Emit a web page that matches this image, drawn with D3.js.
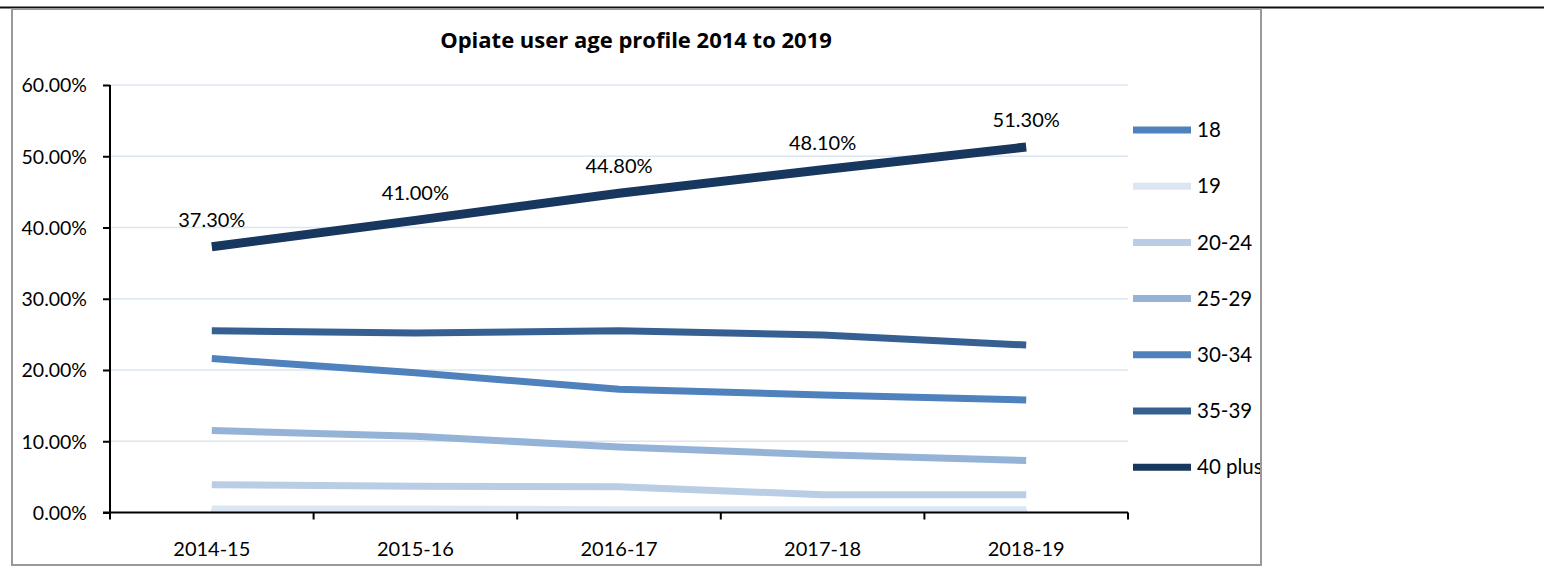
<!DOCTYPE html>
<html>
<head>
<meta charset="utf-8">
<script src="https://cdn.jsdelivr.net/npm/d3@7"></script>
<style>
  html, body { margin: 0; padding: 0; background: #fff; }
  svg { display: block; font-family: "Lato", "Open Sans", sans-serif; }
</style>
</head>
<body>
<svg id="chart" width="1544" height="566"></svg>
<script>
// Years on the x axis
const years = ["2014-15", "2015-16", "2016-17", "2017-18", "2018-19"];

// Share of opiate users by age group (%)
const age18    = [0.0, 0.0, 0.0, 0.0, 0.0];
const age19    = [0.5, 0.5, 0.4, 0.4, 0.4];
const age20_24 = [3.9, 3.7, 3.6, 2.5, 2.5];
const age25_29 = [11.5, 10.7, 9.2, 8.1, 7.3];
const age30_34 = [21.6, 19.6, 17.3, 16.5, 15.8];
const age35_39 = [25.5, 25.2, 25.5, 24.9, 23.5];
const age40plus = [37.3, 41.0, 44.8, 48.1, 51.3];

const seriesNames = ["18", "19", "20-24", "25-29", "30-34", "35-39", "40 plus"];
const seriesValues = [age18, age19, age20_24, age25_29, age30_34, age35_39, age40plus];
const seriesColors = ["#4f81bd", "#dce6f2", "#b9cde5", "#95b3d7", "#4f81bd", "#376092", "#17375e"];

const yTicks = [0, 10, 20, 30, 40, 50, 60];

const svg = d3.select("#chart");

// page rule and chart frame
svg.append("line").attr("x1", 0).attr("x2", 1544).attr("y1", 7.5).attr("y2", 7.5)
  .attr("stroke", "#111").attr("stroke-width", 2);
svg.append("rect").attr("x", 12).attr("y", 9).attr("width", 1249).attr("height", 556)
  .attr("fill", "#fff").attr("stroke", "#999").attr("stroke-width", 2);

const plot = { left: 110, right: 1128, top: 85, bottom: 512.5 };

const xBand = d3.scaleBand().domain(years).range([plot.left, plot.right]);
const x = d3.scalePoint().domain(years).range([plot.left, plot.right]).padding(0.5);
const y = d3.scaleLinear().domain([0, 60]).range([plot.bottom, plot.top]);

// title
svg.append("text").attr("x", 636).attr("y", 48).attr("text-anchor", "middle")
  .attr("font-family", "'Open Sans', sans-serif")
  .attr("font-weight", "bold").attr("font-size", 22).attr("fill", "#000")
  .text("Opiate user age profile 2014 to 2019");

// gridlines
svg.append("g").selectAll("line").data(yTicks.filter(d => d > 0)).join("line")
  .attr("x1", plot.left).attr("x2", plot.right)
  .attr("y1", d => y(d)).attr("y2", d => y(d))
  .attr("stroke", "#dce6f2").attr("stroke-width", 1.5);

// clip lines to the plot area
svg.append("clipPath").attr("id", "plotClip").append("rect")
  .attr("x", plot.left).attr("y", plot.top - 10)
  .attr("width", plot.right - plot.left).attr("height", plot.bottom - plot.top + 10);

const line = d3.line().x((d, i) => x(years[i])).y(d => y(d));

svg.append("g").attr("clip-path", "url(#plotClip)").selectAll("path")
  .data(seriesValues).join("path")
  .attr("d", d => line(d))
  .attr("fill", "none")
  .attr("stroke", (d, i) => seriesColors[i])
  .attr("stroke-width", (d, i) => i === 6 ? 9 : 7)
  .attr("stroke-linejoin", "round");

// data labels on the 40 plus series
svg.append("g").selectAll("text").data(age40plus).join("text")
  .attr("x", (d, i) => x(years[i]))
  .attr("y", d => y(d) - 20)
  .attr("text-anchor", "middle").attr("font-size", 20).attr("fill", "#000")
  .text(d => d.toFixed(2) + "%");

// y axis
const yAxis = svg.append("g").attr("transform", `translate(${plot.left},0)`)
  .call(d3.axisLeft(y).tickValues(yTicks).tickSize(7).tickPadding(16)
    .tickFormat(d => d.toFixed(2) + "%"));
yAxis.select(".domain").attr("stroke", "#000").attr("stroke-width", 2).attr("d", `M0,${plot.top}V${plot.bottom}`);
yAxis.selectAll(".tick line").attr("stroke", "#000").attr("stroke-width", 2);
yAxis.selectAll(".tick text").attr("font-size", 19.5).attr("fill", "#000")
  .attr("font-family", "Lato, sans-serif").attr("dy", "0.35em");

// x axis with tick marks between categories
const xg = svg.append("g");
xg.append("line").attr("x1", plot.left - 7).attr("x2", plot.right)
  .attr("y1", plot.bottom).attr("y2", plot.bottom)
  .attr("stroke", "#000").attr("stroke-width", 2);
const edges = years.map(d => xBand(d)).concat([plot.right]);
xg.selectAll("line.tk").data(edges).join("line").attr("class", "tk")
  .attr("x1", d => d).attr("x2", d => d)
  .attr("y1", plot.bottom).attr("y2", plot.bottom + 7)
  .attr("stroke", "#000").attr("stroke-width", 2);
xg.selectAll("text").data(years).join("text")
  .attr("x", d => x(d)).attr("y", 556)
  .attr("text-anchor", "middle").attr("font-size", 20).attr("fill", "#000")
  .text(d => d);

// legend
const legend = svg.append("g");
const lg = legend.selectAll("g").data(seriesNames).join("g")
  .attr("transform", (d, i) => `translate(1133,${130 + i * 56.2})`);
lg.append("line").attr("x1", 0).attr("x2", 58).attr("y1", 0).attr("y2", 0)
  .attr("stroke", (d, i) => seriesColors[i]).attr("stroke-width", 7);
lg.append("text").attr("x", 64).attr("y", 0).attr("dy", "0.35em")
  .attr("font-size", 20.5).attr("fill", "#000").text(d => d);

// cover the legend overflow beyond the frame
svg.append("rect").attr("x", 1262).attr("y", 10).attr("width", 282).attr("height", 556).attr("fill", "#fff");
svg.append("line").attr("x1", 1261).attr("x2", 1261).attr("y1", 9).attr("y2", 566)
  .attr("stroke", "#999").attr("stroke-width", 2);
</script>
</body>
</html>
